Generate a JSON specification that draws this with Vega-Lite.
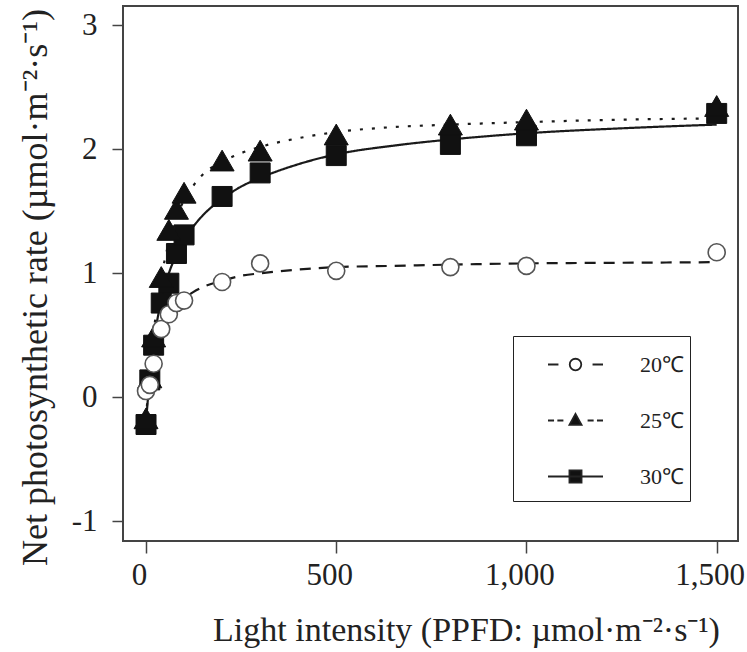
{
  "$schema": "https://vega.github.io/schema/vega-lite/v6.json",
  "width": 615,
  "height": 535,
  "autosize": {"type": "none"},
  "padding": {"left": 123, "top": 6, "right": 9, "bottom": 111},
  "background": "white",
  "config": {
    "view": {"stroke": "#444", "strokeWidth": 2},
    "font": "Liberation Serif",
    "axis": {"domain": false, "grid": false, "tickColor": "#444", "tickWidth": 1.5, "labelColor": "#222", "titleColor": "#222", "labelFont": "Liberation Serif", "titleFont": "Liberation Serif", "titleFontWeight": "normal", "labelFontSize": 31, "titleFontSize": 34}
  },
  "datasets": {
    "pts": [
      {"x": 0, "y": -0.22, "temp": "30℃"}, {"x": 10, "y": 0.14, "temp": "30℃"}, {"x": 20, "y": 0.42, "temp": "30℃"}, {"x": 40, "y": 0.76, "temp": "30℃"}, {"x": 60, "y": 0.92, "temp": "30℃"}, {"x": 80, "y": 1.16, "temp": "30℃"}, {"x": 100, "y": 1.31, "temp": "30℃"}, {"x": 200, "y": 1.62, "temp": "30℃"}, {"x": 300, "y": 1.81, "temp": "30℃"}, {"x": 500, "y": 1.95, "temp": "30℃"}, {"x": 800, "y": 2.04, "temp": "30℃"}, {"x": 1000, "y": 2.11, "temp": "30℃"}, {"x": 1500, "y": 2.29, "temp": "30℃"},
      {"x": 0, "y": -0.17, "temp": "25℃"}, {"x": 10, "y": 0.16, "temp": "25℃"}, {"x": 20, "y": 0.49, "temp": "25℃"}, {"x": 40, "y": 0.97, "temp": "25℃"}, {"x": 60, "y": 1.35, "temp": "25℃"}, {"x": 80, "y": 1.52, "temp": "25℃"}, {"x": 100, "y": 1.65, "temp": "25℃"}, {"x": 200, "y": 1.91, "temp": "25℃"}, {"x": 300, "y": 1.99, "temp": "25℃"}, {"x": 500, "y": 2.12, "temp": "25℃"}, {"x": 800, "y": 2.2, "temp": "25℃"}, {"x": 1000, "y": 2.24, "temp": "25℃"}, {"x": 1500, "y": 2.35, "temp": "25℃"},
      {"x": 0, "y": 0.05, "temp": "20℃"}, {"x": 10, "y": 0.1, "temp": "20℃"}, {"x": 20, "y": 0.27, "temp": "20℃"}, {"x": 40, "y": 0.55, "temp": "20℃"}, {"x": 60, "y": 0.67, "temp": "20℃"}, {"x": 80, "y": 0.76, "temp": "20℃"}, {"x": 100, "y": 0.78, "temp": "20℃"}, {"x": 200, "y": 0.93, "temp": "20℃"}, {"x": 300, "y": 1.08, "temp": "20℃"}, {"x": 500, "y": 1.02, "temp": "20℃"}, {"x": 800, "y": 1.05, "temp": "20℃"}, {"x": 1000, "y": 1.06, "temp": "20℃"}, {"x": 1500, "y": 1.17, "temp": "20℃"}
    ],
    "fit": [
      {"x": 0, "y": -0.2, "temp": "30℃"}, {"x": 10, "y": 0.16, "temp": "30℃"}, {"x": 20, "y": 0.44, "temp": "30℃"}, {"x": 30, "y": 0.63, "temp": "30℃"}, {"x": 40, "y": 0.78, "temp": "30℃"}, {"x": 60, "y": 1.0, "temp": "30℃"}, {"x": 80, "y": 1.15, "temp": "30℃"}, {"x": 100, "y": 1.27, "temp": "30℃"}, {"x": 125, "y": 1.38, "temp": "30℃"}, {"x": 150, "y": 1.47, "temp": "30℃"}, {"x": 200, "y": 1.6, "temp": "30℃"}, {"x": 250, "y": 1.7, "temp": "30℃"}, {"x": 300, "y": 1.77, "temp": "30℃"}, {"x": 400, "y": 1.88, "temp": "30℃"}, {"x": 500, "y": 1.96, "temp": "30℃"}, {"x": 650, "y": 2.03, "temp": "30℃"}, {"x": 800, "y": 2.08, "temp": "30℃"}, {"x": 1000, "y": 2.13, "temp": "30℃"}, {"x": 1250, "y": 2.17, "temp": "30℃"}, {"x": 1500, "y": 2.2, "temp": "30℃"},
      {"x": 0, "y": -0.17, "temp": "25℃"}, {"x": 10, "y": 0.22, "temp": "25℃"}, {"x": 20, "y": 0.52, "temp": "25℃"}, {"x": 30, "y": 0.76, "temp": "25℃"}, {"x": 40, "y": 0.96, "temp": "25℃"}, {"x": 60, "y": 1.25, "temp": "25℃"}, {"x": 80, "y": 1.45, "temp": "25℃"}, {"x": 100, "y": 1.59, "temp": "25℃"}, {"x": 125, "y": 1.71, "temp": "25℃"}, {"x": 150, "y": 1.8, "temp": "25℃"}, {"x": 200, "y": 1.9, "temp": "25℃"}, {"x": 250, "y": 1.97, "temp": "25℃"}, {"x": 300, "y": 2.02, "temp": "25℃"}, {"x": 400, "y": 2.09, "temp": "25℃"}, {"x": 500, "y": 2.14, "temp": "25℃"}, {"x": 650, "y": 2.18, "temp": "25℃"}, {"x": 800, "y": 2.2, "temp": "25℃"}, {"x": 1000, "y": 2.22, "temp": "25℃"}, {"x": 1250, "y": 2.24, "temp": "25℃"}, {"x": 1500, "y": 2.25, "temp": "25℃"},
      {"x": 0, "y": 0.0, "temp": "20℃"}, {"x": 10, "y": 0.13, "temp": "20℃"}, {"x": 20, "y": 0.27, "temp": "20℃"}, {"x": 30, "y": 0.38, "temp": "20℃"}, {"x": 40, "y": 0.48, "temp": "20℃"}, {"x": 60, "y": 0.62, "temp": "20℃"}, {"x": 80, "y": 0.72, "temp": "20℃"}, {"x": 100, "y": 0.79, "temp": "20℃"}, {"x": 125, "y": 0.85, "temp": "20℃"}, {"x": 150, "y": 0.89, "temp": "20℃"}, {"x": 200, "y": 0.94, "temp": "20℃"}, {"x": 250, "y": 0.98, "temp": "20℃"}, {"x": 300, "y": 1.0, "temp": "20℃"}, {"x": 400, "y": 1.03, "temp": "20℃"}, {"x": 500, "y": 1.05, "temp": "20℃"}, {"x": 650, "y": 1.06, "temp": "20℃"}, {"x": 800, "y": 1.07, "temp": "20℃"}, {"x": 1000, "y": 1.08, "temp": "20℃"}, {"x": 1250, "y": 1.085, "temp": "20℃"}, {"x": 1500, "y": 1.09, "temp": "20℃"}
    ]
  },
  "encoding": {
    "x": {"field": "x", "type": "quantitative", "scale": {"domain": [-60.5, 1556], "nice": false, "zero": false},
      "axis": {"values": [0, 500, 1000, 1500], "format": ",d", "title": "Light intensity (PPFD: µmol·m⁻²·s⁻¹)", "tickSize": 12, "labelPadding": 7, "labelOffset": -7, "titleX": 343, "titleY": 89, "titleBaseline": "middle", "titleAnchor": "middle", "labelFlush": false, "labelOverlap": false}},
    "y": {"field": "y", "type": "quantitative", "scale": {"domain": [-1.16, 3.157], "nice": false, "zero": false},
      "axis": {"values": [-1, 0, 1, 2, 3], "labelExpr": "datum.value < 0 ? '-' + abs(datum.value) : '' + datum.value", "title": "Net photosynthetic rate (µmol·m⁻²·s⁻¹)", "titleFontSize": 36, "tickSize": 11, "labelPadding": 15, "titleX": -88, "titleY": 281, "titleBaseline": "middle", "titleAnchor": "middle", "labelOverlap": false}}
  },
  "layer": [
    {
      "data": {"name": "fit"},
      "mark": {"type": "line", "strokeWidth": 2.2, "color": "#1a1a1a", "interpolate": "monotone"},
      "encoding": {
        "strokeDash": {"field": "temp", "type": "nominal", "scale": {"domain": ["25℃", "30℃", "20℃"], "range": [[3, 9], [1, 0], [11, 8]]}, "legend": null}
      }
    },
    {
      "data": {"name": "pts"},
      "transform": [{"filter": "datum.temp === '30℃'"}],
      "mark": {"type": "point", "shape": "square", "filled": true, "opacity": 1, "size": 400, "fill": "#111", "stroke": "#111", "strokeWidth": 1}
    },
    {
      "data": {"name": "pts"},
      "transform": [{"filter": "datum.temp === '25℃'"}],
      "mark": {"type": "point", "shape": "triangle-up", "filled": true, "opacity": 1, "size": 576, "fill": "#111", "stroke": "#111", "strokeWidth": 1}
    },
    {
      "data": {"name": "pts"},
      "transform": [{"filter": "datum.temp === '20℃'"}],
      "mark": {"type": "point", "shape": "circle", "filled": true, "opacity": 1, "size": 290, "fill": "white", "stroke": "#555", "strokeWidth": 1.6}
    },
    {
      "data": {"values": []},
      "mark": {"type": "point", "filled": true, "color": "#111", "stroke": "#222", "strokeWidth": 1.8, "opacity": 1},
      "encoding": {
        "shape": {"field": "temp", "type": "nominal",
          "scale": {"domain": ["20℃", "25℃", "30℃"], "range": [
            "M0,-0.73L0,-0.73M4.0,0.73L4.0,0.73M-1,0L-0.62,0M0.62,0L1,0M-0.21,0A0.21,0.21,0,1,1,0.21,0A0.21,0.21,0,1,1,-0.21,0ZM-0.21,0A0.21,0.21,0,1,0,0.21,0A0.21,0.21,0,1,0,-0.21,0Z",
            "M0,-0.73L0,-0.73M4.0,0.73L4.0,0.73M-1,0L-0.78,0M-0.66,0L-0.44,0M0.44,0L0.66,0M0.78,0L1,0M0,-0.24L0.22,0.16L-0.22,0.16Z",
            "M0,-0.73L0,-0.73M4.0,0.73L4.0,0.73M-1,0L1,0M-0.22,-0.22L0.22,-0.22L0.22,0.22L-0.22,0.22Z"
          ]},
          "legend": {
            "title": null, "orient": "none", "legendX": 390, "legendY": 330,
            "symbolSize": 3025, "symbolOpacity": 1, "symbolStrokeWidth": 1.8, "symbolOffset": 34,
            "labelFontSize": 22, "labelFont": "Liberation Serif", "labelColor": "#222", "labelOffset": 36,
            "padding": 0, "rowPadding": 3, "strokeColor": "#222", "fillColor": "white"
          }}
      }
    }
  ]
}
